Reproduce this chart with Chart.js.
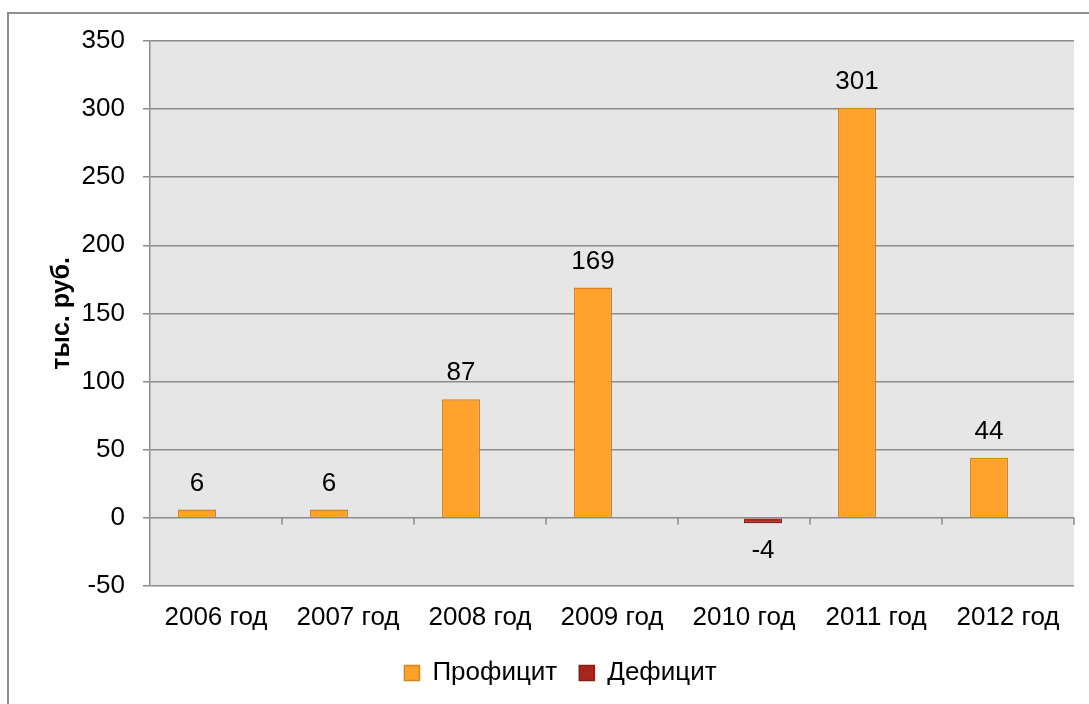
<!DOCTYPE html>
<html>
<head>
<meta charset="utf-8">
<script src="https://cdn.jsdelivr.net/npm/chart.js@4.4.1/dist/chart.umd.min.js"></script>
<style>
  html, body { margin: 0; padding: 0; background: #fff; overflow: hidden; }
  #frame { position: absolute; left: 7px; top: 12px; width: 2000px; height: 2000px;
           border-top: 2px solid #8e8e8e; border-left: 2px solid #8e8e8e; }
  #wrap { position: absolute; left: 0; top: 0; width: 1089px; height: 704px; }
</style>
</head>
<body>
<div id="frame"></div>
<div id="wrap"><canvas id="barChart"></canvas></div>
<script>
// категории и значения
var years = ['2006 год', '2007 год', '2008 год', '2009 год', '2010 год', '2011 год', '2012 год'];
var surplus = [6, 6, 87, 169, null, 301, 44];
var deficit = [null, null, null, null, -4, null, null];
var yTicks = [-50, 0, 50, 100, 150, 200, 250, 300, 350];

var gridColor = '#8c8c8c';
Chart.defaults.font.family = '"Liberation Sans", Arial, sans-serif';
Chart.defaults.font.size = 26;
Chart.defaults.color = '#000';

// серый фон области построения
var plotBg = {
  id: 'plotBg',
  beforeDraw: function(chart) {
    var a = chart.chartArea, c = chart.ctx;
    c.save();
    c.fillStyle = '#e6e6e6';
    c.fillRect(a.left, a.top, a.right - a.left, a.bottom - a.top);
    c.restore();
  }
};

// метки делений категорий на нулевой линии
var zeroTicks = {
  id: 'zeroTicks',
  afterDatasetsDraw: function(chart) {
    var x = chart.scales.x, y = chart.scales.y, c = chart.ctx;
    var y0 = y.getPixelForValue(0);
    var n = years.length;
    c.save();
    c.strokeStyle = gridColor;
    c.lineWidth = 1.5;
    c.beginPath();
    for (var i = 0; i < n; i++) {
      var bx = i < n - 1 ? (x.getPixelForTick(i) + x.getPixelForTick(i + 1)) / 2 : chart.chartArea.right;
      c.moveTo(bx, y0);
      c.lineTo(bx, y0 + 7);
    }
    c.stroke();
    c.restore();
  }
};

// подписи значений
var valueLabels = {
  id: 'valueLabels',
  afterDatasetsDraw: function(chart) {
    var c = chart.ctx;
    c.save();
    c.font = '26px "Liberation Sans", Arial, sans-serif';
    c.fillStyle = '#000';
    c.textAlign = 'center';
    c.textBaseline = 'middle';
    chart.data.datasets.forEach(function(ds, di) {
      var meta = chart.getDatasetMeta(di);
      meta.data.forEach(function(bar, i) {
        var v = ds.data[i];
        if (v === null || v === undefined) return;
        var ty = v >= 0 ? bar.y - 26 : bar.y + 28;
        c.fillText(String(v), bar.x, ty);
      });
    });
    c.restore();
  }
};

var ctx = document.getElementById('barChart').getContext('2d');
var chart = new Chart(ctx, {
  type: 'bar',
  data: {
    labels: years,
    datasets: [{
      label: 'Профицит',
      data: surplus,
      backgroundColor: '#ffa22b',
      borderColor: '#d9841a',
      borderWidth: 1.5
    }, {
      label: 'Дефицит',
      data: deficit,
      backgroundColor: '#a8261e',
      borderColor: '#8a1c14',
      borderWidth: 1.5
    }]
  },
  options: {
    responsive: true,
    maintainAspectRatio: false,
    animation: false,
    categoryPercentage: 0.576,
    barPercentage: 1,
    layout: { padding: { left: 47, right: 15, top: 41, bottom: 8 } },
    plugins: {
      legend: {
        position: 'bottom',
        labels: { boxWidth: 15, boxHeight: 15, padding: 22, font: { size: 26 } }
      },
      tooltip: { enabled: false }
    },
    scales: {
      x: {
        grid: { display: false, drawTicks: false },
        border: { display: false },
        ticks: { padding: 16, font: { size: 26 } },
        afterFit: function(scale) { scale.height = scale.height - 11; }
      },
      y: {
        min: -50,
        max: 350,
        afterBuildTicks: function(scale) {
          scale.ticks = yTicks.map(function(v) { return { value: v }; });
        },
        afterFit: function(scale) { scale.width = 103; },
        grid: { color: gridColor, lineWidth: 1.5, tickLength: 7 },
        border: { display: true, color: gridColor, width: 1.5 },
        ticks: { padding: 18, font: { size: 26 } },
        title: {
          display: true,
          text: 'тыс. руб.',
          font: { size: 25, weight: 'bold' },
          padding: { top: 0, bottom: 0 }
        }
      }
    }
  },
  plugins: [plotBg, zeroTicks, valueLabels]
});
</script>
</body>
</html>
